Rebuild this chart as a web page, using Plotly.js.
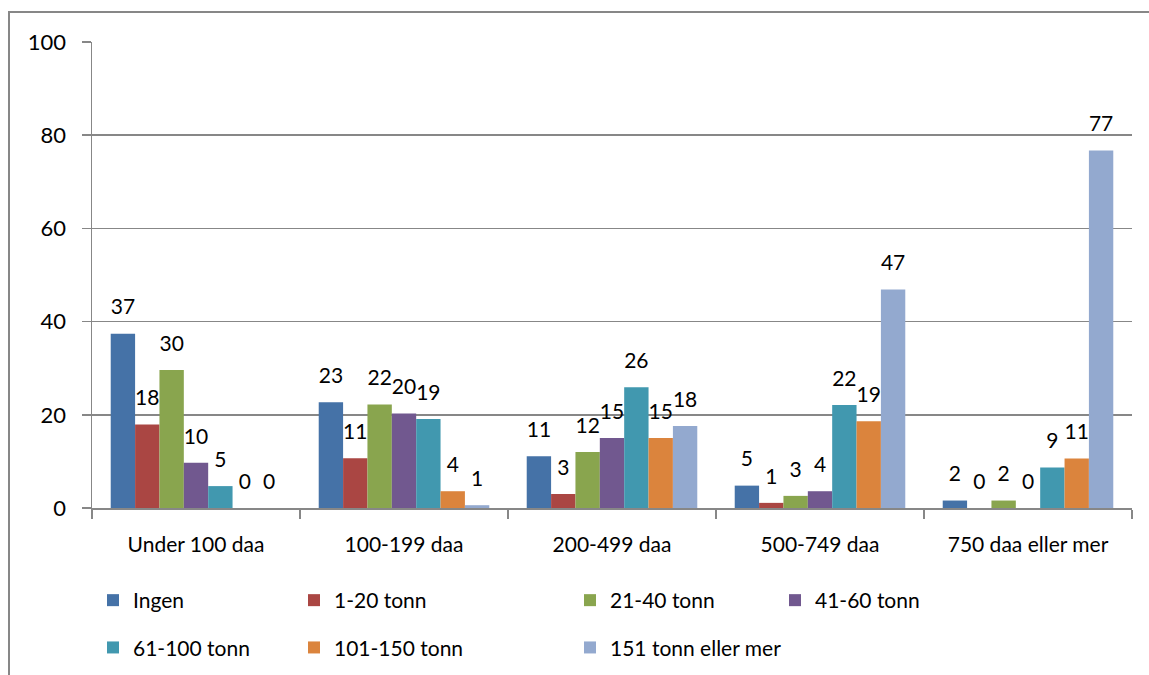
<!DOCTYPE html>
<html>
<head>
<meta charset="utf-8">
<script src="https://cdn.plot.ly/plotly-3.0.1.min.js"></script>
<style>
  html, body { margin: 0; padding: 0; background: #fff; overflow: hidden; }
  #wrap { position: relative; width: 1149px; height: 675px; overflow: hidden; }
  #chart { position: absolute; left: 0; top: 0; width: 1149px; height: 675px; }
  #frame { position: absolute; left: 8px; top: 11px; width: 1200px; height: 700px;
           border: 2px solid #878787; pointer-events: none; }
</style>
</head>
<body>
<div id="wrap">
  <div id="chart"></div>
  <div id="frame"></div>
</div>
<script>
// Farm size groups (daa) on the x axis
const categories = ['Under 100 daa', '100-199 daa', '200-499 daa', '500-749 daa', '750 daa eller mer'];

// Share (%) in each size group, one series per amount bracket
const seriesNames = ['Ingen', '1-20 tonn', '21-40 tonn', '41-60 tonn', '61-100 tonn', '101-150 tonn', '151 tonn eller mer'];
const ingen       = [37.4, 22.7, 11.1, 4.8, 1.6];
const tonn1_20    = [17.9, 10.7, 3.0, 1.1, 0];
const tonn21_40   = [29.6, 22.2, 12.0, 2.6, 1.6];
const tonn41_60   = [9.7, 20.3, 15.0, 3.6, 0];
const tonn61_100  = [4.7, 19.1, 25.9, 22.1, 8.7];
const tonn101_150 = [0, 3.6, 15.0, 18.6, 10.6];
const tonn151     = [0, 0.6, 17.6, 46.9, 76.7];

const seriesValues = [ingen, tonn1_20, tonn21_40, tonn41_60, tonn61_100, tonn101_150, tonn151];
const colors = ['#4572A7', '#AA4643', '#89A54E', '#71588F', '#4198AF', '#DB843D', '#93A9CF'];

// Legend column for each series: two rows, four columns
const legendIds = ['legend', 'legend2', 'legend3', 'legend4', 'legend', 'legend2', 'legend3'];

const FONT = 'Lato, "Open Sans", sans-serif';

// Value label: rounded value, with a small empty second line that lifts it off the bar
const labelTemplate = '<span style="font-size:21px">%{y:.0f}</span><br>&nbsp;';

const traces = seriesValues.map((vals, i) => ({
  type: 'bar',
  name: seriesNames[i],
  x: categories,
  y: vals,
  marker: { color: colors[i], line: { width: 0 } },
  texttemplate: labelTemplate,
  textposition: 'outside',
  constraintext: 'none',
  cliponaxis: false,
  textfont: { family: FONT, size: 11, color: '#000' },
  legend: legendIds[i],
  legendgroup: 's' + i,
  hoverinfo: 'x+y+name'
}));

// Plot area in pixels (used to place the legend columns under it)
const M = { l: 92, r: 17, t: 42, b: 167, autoexpand: false };
const W = 1149, H = 675;
const plotW = W - M.l - M.r, plotH = H - M.t - M.b;

function legendAt(px, py) {
  return {
    xref: 'paper', yref: 'paper',
    x: (px - M.l) / plotW, y: (H - M.b - py) / plotH,
    xanchor: 'left', yanchor: 'top',
    orientation: 'v',
    tracegroupgap: 17,
    bgcolor: 'rgba(0,0,0,0)',
    font: { family: FONT, size: 21, color: '#000' }
  };
}

const layout = {
  width: W,
  height: H,
  margin: M,
  paper_bgcolor: '#fff',
  plot_bgcolor: '#fff',
  barmode: 'group',
  bargap: 0.18,
  bargroupgap: 0,
  showlegend: true,
  font: { family: FONT, size: 21, color: '#000' },
  xaxis: {
    type: 'category',
    tickson: 'boundaries',
    ticks: 'outside',
    ticklen: 9,
    tickwidth: 1.5,
    tickcolor: '#878787',
    showline: true,
    linecolor: '#878787',
    linewidth: 1.5,
    showgrid: false,
    zeroline: false,
    automargin: false,
    ticklabelstandoff: 17,
    tickfont: { family: FONT, size: 21, color: '#000' }
  },
  yaxis: {
    range: [0, 100],
    tick0: 0,
    dtick: 20,
    ticks: 'outside',
    ticklen: 9,
    tickwidth: 1.5,
    tickcolor: '#878787',
    showline: true,
    linecolor: '#878787',
    linewidth: 1.5,
    showgrid: true,
    gridcolor: '#878787',
    gridwidth: 1.5,
    zeroline: false,
    automargin: false,
    ticklabelstandoff: 11,
    tickfont: { family: FONT, size: 22, color: '#000' }
  },
  legend: legendAt(93, 580),
  legend2: legendAt(294, 580),
  legend3: legendAt(570, 580),
  legend4: legendAt(775, 580)
};

Plotly.newPlot('chart', traces, layout, { displayModeBar: false, staticPlot: true });
</script>
</body>
</html>
